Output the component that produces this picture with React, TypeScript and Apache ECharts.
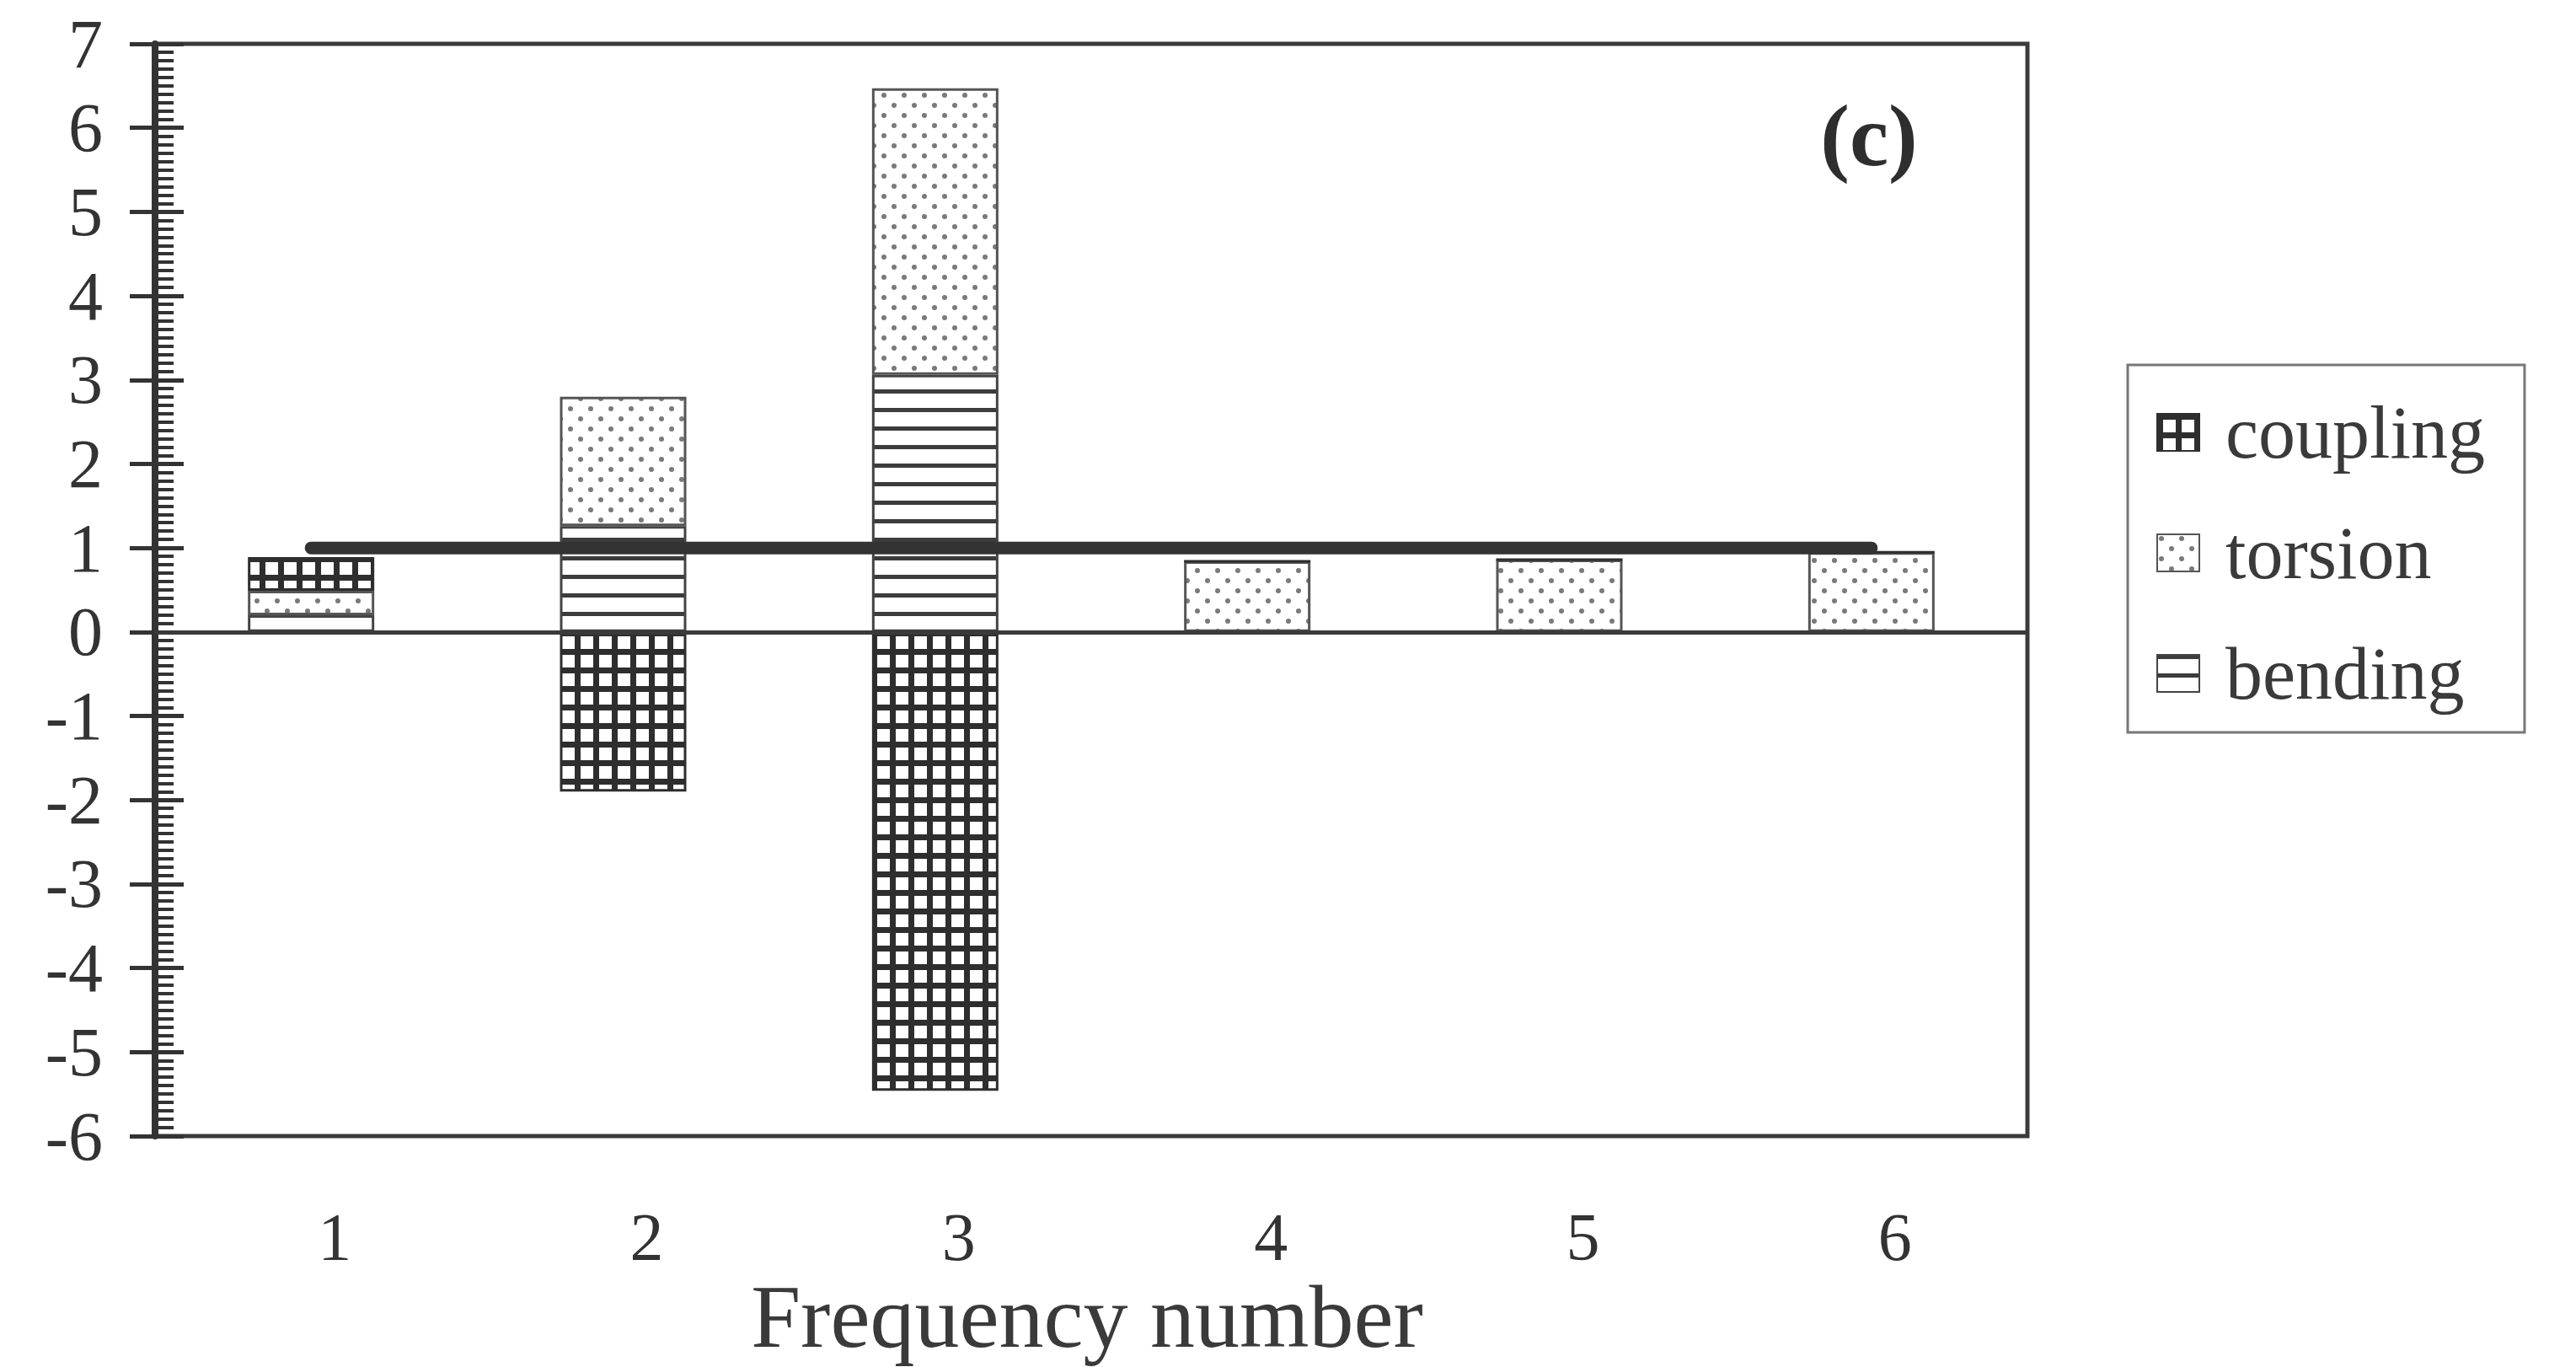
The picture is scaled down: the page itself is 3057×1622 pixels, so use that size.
import React, { useEffect, useRef } from "react";
import * as echarts from "echarts";

const categories = ["1", "2", "3", "4", "5", "6"];
const bending = [0.2, 1.26, 3.06, 0, 0, 0];
const torsion = [0.29, 1.54, 3.41, 0.84, 0.86, 0.95];
const coupling = [0.4, -1.9, -5.46, 0, 0, 0];
const total = [1, 1, 1, 1, 1, 1];
const legendOrder = ["coupling", "torsion", "bending"];

const SERIF = "'Liberation Serif', 'DejaVu Serif', serif";
const INK = "#333333";

function makePattern(w: number, h: number, draw: (ctx: CanvasRenderingContext2D) => void) {
  const c = document.createElement("canvas");
  c.width = w;
  c.height = h;
  const ctx = c.getContext("2d") as CanvasRenderingContext2D;
  ctx.fillStyle = "#ffffff";
  ctx.fillRect(0, 0, w, h);
  draw(ctx);
  return { image: c.toDataURL(), repeat: "repeat", imageWidth: w, imageHeight: h } as any;
}

export default function App() {
  const ref = useRef<HTMLDivElement>(null);

  useEffect(() => {
    if (!ref.current) return;
    const chart = echarts.init(ref.current, null, { renderer: "svg" });

    const gridPat = makePattern(22, 22, (ctx) => {
      ctx.fillStyle = "#2e2e2e";
      ctx.fillRect(0, 0, 22, 7);
      ctx.fillRect(0, 0, 7, 22);
    });
    const stripePat = makePattern(8, 22, (ctx) => {
      ctx.fillStyle = "#3c3c3c";
      ctx.fillRect(0, 0, 8, 5);
    });
    const dotPat = makePattern(24, 24, (ctx) => {
      ctx.fillStyle = "#7a7a7a";
      ctx.beginPath();
      ctx.arc(5, 5, 3, 0, Math.PI * 2);
      ctx.fill();
      ctx.beginPath();
      ctx.arc(17, 17, 3, 0, Math.PI * 2);
      ctx.fill();
    });

    const barBase = {
      type: "bar",
      stack: "modes",
      barWidth: 150,
      yAxisIndex: 0,
    };

    chart.setOption({
      animation: false,
      backgroundColor: "#ffffff",
      grid: {
        left: 184,
        right: 3057 - 2406,
        top: 52,
        bottom: 1622 - 1348,
        show: true,
        borderColor: "#3a3a3a",
        borderWidth: 5,
        backgroundColor: "transparent",
      },
      legend: {
        data: legendOrder,
        orient: "vertical",
        left: 2525,
        top: 433,
        padding: [30, 47, 20, 34],
        itemGap: 43,
        itemWidth: 50,
        itemHeight: 44,
        borderColor: "#777777",
        borderWidth: 3,
        icon: "rect",
        textStyle: {
          fontFamily: SERIF,
          fontSize: 88,
          lineHeight: 100,
          color: "#3a3a3a",
          padding: [0, 0, 0, 26],
        },
      },
      xAxis: {
        type: "category",
        data: categories,
        axisLine: { show: false, onZero: false },
        axisTick: { show: false },
        splitLine: { show: false },
        axisLabel: {
          fontFamily: SERIF,
          fontSize: 80,
          lineHeight: 80,
          color: INK,
          margin: 80,
          padding: [0, 0, 0, 56],
        },
      },
      yAxis: [
        {
          type: "value",
          min: -6,
          max: 7,
          interval: 1,
          position: "left",
          axisLine: { show: true, lineStyle: { color: INK, width: 8 } },
          axisTick: { show: true, inside: false, length: 30, lineStyle: { color: INK, width: 5 } },
          splitLine: { show: false },
          axisLabel: {
            fontFamily: SERIF,
            fontSize: 82,
            color: INK,
            margin: 62,
          },
        },
        {
          type: "value",
          min: -6,
          max: 7,
          interval: 1,
          position: "left",
          axisLine: { show: false },
          axisTick: { show: true, inside: true, length: 34, lineStyle: { color: INK, width: 5 } },
          minorTick: { show: true, splitNumber: 10, length: 22, lineStyle: { color: INK, width: 4 } },
          splitLine: { show: false },
          axisLabel: { show: false },
        },
      ],
      graphic: [
        {
          type: "text",
          x: 2218,
          y: 160,
          style: {
            text: "(c)",
            font: `bold 104px ${SERIF}`,
            fill: "#2e2e2e",
            align: "center",
            verticalAlign: "middle",
            textAlign: "center",
            textVerticalAlign: "middle",
          },
        },
        {
          type: "text",
          x: 1290,
          y: 1562,
          style: {
            text: "Frequency number",
            font: `106px ${SERIF}`,
            fill: "#3a3a3a",
            align: "center",
            verticalAlign: "middle",
            textAlign: "center",
            textVerticalAlign: "middle",
          },
        },
      ],
      series: [
        {
          ...barBase,
          name: "bending",
          data: bending,
          itemStyle: { color: stripePat, borderColor: "#444444", borderWidth: 3 },
        },
        {
          ...barBase,
          name: "torsion",
          data: torsion,
          itemStyle: { color: dotPat, borderColor: "#555555", borderWidth: 3 },
        },
        {
          ...barBase,
          name: "coupling",
          data: coupling,
          itemStyle: { color: gridPat, borderColor: "#2e2e2e", borderWidth: 3 },
          markLine: {
            silent: true,
            symbol: "none",
            label: { show: false },
            lineStyle: { color: "#3a3a3a", width: 5, type: "solid" },
            data: [{ yAxis: 0 }],
          },
        },
        {
          type: "line",
          name: "total",
          data: total,
          yAxisIndex: 0,
          symbol: "none",
          z: 10,
          lineStyle: { color: "#333333", width: 15, cap: "round" },
        },
      ],
    });

    return () => chart.dispose();
  }, []);

  return (
    <div
      ref={ref}
      style={{ position: "fixed", left: 0, top: 0, width: 3057, height: 1622, background: "#fff" }}
    />
  );
}
